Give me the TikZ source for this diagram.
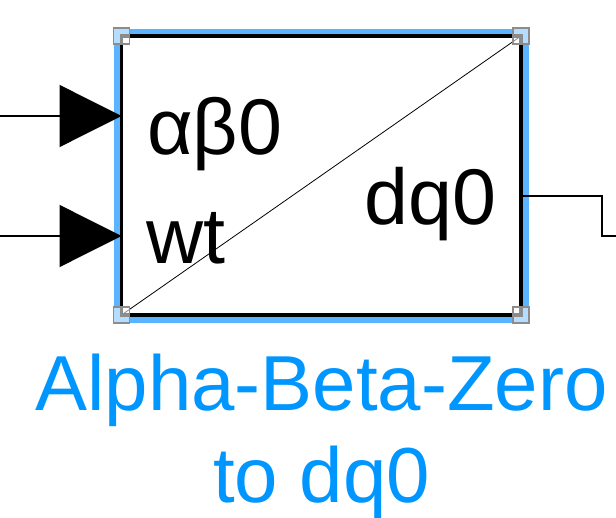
\documentclass[tikz,border=0pt]{standalone}
\usepackage{fontspec}
\setmainfont{Liberation Sans}
\usetikzlibrary{arrows.meta}
\definecolor{selblue}{RGB}{90,180,255}
\definecolor{lblblue}{RGB}{0,150,255}
\definecolor{hdlgray}{RGB}{140,140,140}
\tikzset{
  blockbox/.style={draw=black, line width=3.5pt, fill=white, outer sep=0pt,
    minimum width=399.5pt, minimum height=279pt, inner sep=0pt},
  portlbl/.style={font=\fontsize{79}{94}\selectfont, inner sep=0pt, anchor=base west},
  caplbl/.style={font=\fontsize{78}{94}\selectfont, text=lblblue, inner sep=0pt, anchor=base},
  wire/.style={line width=1.3pt},
  inwire/.style={wire, -{Triangle[length=62pt,width=62pt]}},
  handle/.style={draw=hdlgray, line width=1.5pt, fill=white, fill opacity=0.55},
}
\begin{document}
\begin{tikzpicture}[x=1pt, y=-1pt]
      \useasboundingbox (0,0) rectangle (616,518);
      %
      \draw[selblue, line width=6pt] (117,32) rectangle (526,320);
      \node[blockbox] (blk) at (321.25,175.5) {};
      \draw[line width=0.8pt] (blk.south west) -- (blk.north east);
      %
      \node[portlbl] (lab) at (147,155) {αβ0};
      \node[portlbl] (lwt) at (146,264) {wt};
      \node[portlbl, anchor=base east] (ldq) at (497,225) {dq0};
      %
      \coordinate (src1) at (0,116);
      \coordinate (src2) at (0,236);
      \coordinate (out) at (blk.east |- 0,196);
      \coordinate (dst) at (616,236);
      \draw[inwire] (src1) -- (blk.west |- src1);
      \draw[inwire] (src2) -- (blk.west |- src2);
      \draw[wire] (out) -- ++(81,0) |- (dst);
      %
      \foreach \c in {north west, north east, south west, south east}
        \draw[handle] (blk.\c) ++(-8,-8) rectangle ++(16,16);
      %
      \node[caplbl] (cap1) at (321.5,411) {Alpha-Beta-Zero};
      \node[caplbl] (cap2) at (321.5,502) {to dq0};
      %
    \end{tikzpicture}
\end{document}
